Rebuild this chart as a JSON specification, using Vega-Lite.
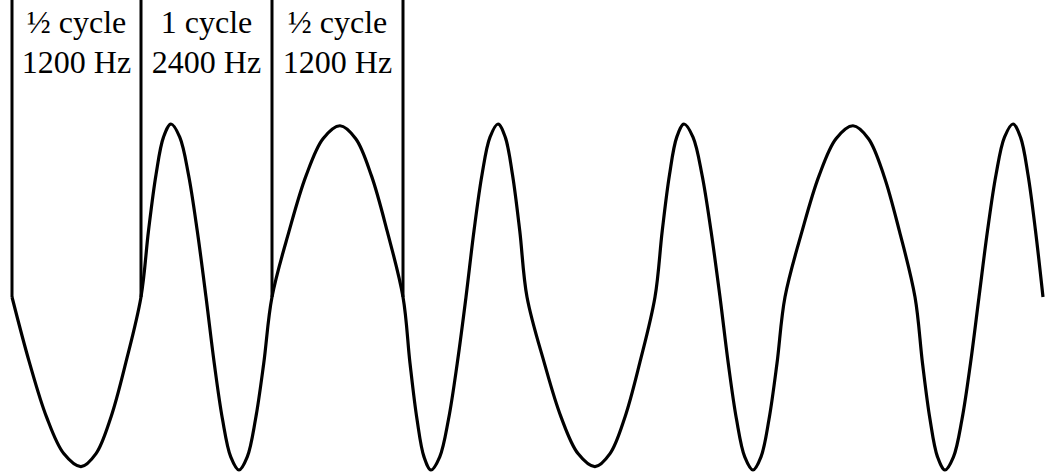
{
  "$schema": "https://vega.github.io/schema/vega-lite/v6.json",
  "width": 1047,
  "height": 475,
  "padding": 0,
  "autosize": {"type": "none"},
  "background": "white",
  "config": {"view": {"stroke": null}},
  "datasets": {
    "wave": [
      {"t": 12, "v": 0}, {"t": 29.25, "v": -0.375}, {"t": 46.5, "v": -0.693}, {"t": 63.75, "v": -0.905}, {"t": 81, "v": -0.98},
      {"t": 96, "v": -0.905}, {"t": 111, "v": -0.693}, {"t": 126, "v": -0.375}, {"t": 141, "v": 0},
      {"t": 148.5, "v": 0.383}, {"t": 156, "v": 0.707}, {"t": 163.5, "v": 0.924}, {"t": 171, "v": 1.0},
      {"t": 179.75, "v": 0.924}, {"t": 188.5, "v": 0.707}, {"t": 197.25, "v": 0.383}, {"t": 206, "v": 0},
      {"t": 214.25, "v": -0.383}, {"t": 222.5, "v": -0.707}, {"t": 230.75, "v": -0.924}, {"t": 239, "v": -1.0},
      {"t": 247.25, "v": -0.924}, {"t": 255.5, "v": -0.707}, {"t": 263.75, "v": -0.383}, {"t": 272, "v": 0},
      {"t": 289, "v": 0.379}, {"t": 306, "v": 0.7}, {"t": 323, "v": 0.915}, {"t": 340, "v": 0.99},
      {"t": 355.75, "v": 0.915}, {"t": 371.5, "v": 0.7}, {"t": 387.25, "v": 0.379}, {"t": 403, "v": 0},
      {"t": 410, "v": -0.383}, {"t": 417, "v": -0.707}, {"t": 424, "v": -0.924}, {"t": 431, "v": -1.0},
      {"t": 439.75, "v": -0.924}, {"t": 448.5, "v": -0.707}, {"t": 457.25, "v": -0.383}, {"t": 466, "v": 0},
      {"t": 474, "v": 0.383}, {"t": 482, "v": 0.707}, {"t": 490, "v": 0.924}, {"t": 498, "v": 1.0},
      {"t": 505.25, "v": 0.924}, {"t": 512.5, "v": 0.707}, {"t": 519.75, "v": 0.383}, {"t": 527, "v": 0},
      {"t": 544, "v": -0.375}, {"t": 561, "v": -0.693}, {"t": 578, "v": -0.905}, {"t": 595, "v": -0.98},
      {"t": 610, "v": -0.905}, {"t": 625, "v": -0.693}, {"t": 640, "v": -0.375}, {"t": 655, "v": 0},
      {"t": 662.25, "v": 0.383}, {"t": 669.5, "v": 0.707}, {"t": 676.75, "v": 0.924}, {"t": 684, "v": 1.0},
      {"t": 693, "v": 0.924}, {"t": 702, "v": 0.707}, {"t": 711, "v": 0.383}, {"t": 720, "v": 0},
      {"t": 728.25, "v": -0.383}, {"t": 736.5, "v": -0.707}, {"t": 744.75, "v": -0.924}, {"t": 753, "v": -1.0},
      {"t": 761, "v": -0.924}, {"t": 769, "v": -0.707}, {"t": 777, "v": -0.383}, {"t": 785, "v": 0},
      {"t": 802, "v": 0.379}, {"t": 819, "v": 0.7}, {"t": 836, "v": 0.915}, {"t": 853, "v": 0.99},
      {"t": 868.5, "v": 0.915}, {"t": 884, "v": 0.7}, {"t": 899.5, "v": 0.379}, {"t": 915, "v": 0},
      {"t": 922.5, "v": -0.383}, {"t": 930, "v": -0.707}, {"t": 937.5, "v": -0.924}, {"t": 945, "v": -1.0},
      {"t": 953.5, "v": -0.924}, {"t": 962, "v": -0.707}, {"t": 970.5, "v": -0.383}, {"t": 979, "v": 0},
      {"t": 987.5, "v": 0.383}, {"t": 996, "v": 0.707}, {"t": 1004.5, "v": 0.924}, {"t": 1013, "v": 1.0},
      {"t": 1020.5, "v": 0.924}, {"t": 1028, "v": 0.707}, {"t": 1035.5, "v": 0.383}, {"t": 1043, "v": 0}
    ],
    "marks": [
      {"t": 12}, {"t": 141}, {"t": 272}, {"t": 403}
    ],
    "labels": [
      {"tc": 76.5, "l1": "½ cycle", "l2": "1200 Hz"},
      {"tc": 206.5, "l1": "1 cycle", "l2": "2400 Hz"},
      {"tc": 337.5, "l1": "½ cycle", "l2": "1200 Hz"}
    ]
  },
  "layer": [
    {
      "data": {"name": "marks"},
      "mark": {"type": "rule", "color": "black", "strokeWidth": 3},
      "encoding": {
        "x": {"field": "t", "type": "quantitative", "scale": {"domain": [0, 1047], "nice": false, "zero": false}, "axis": null},
        "y": {"datum": 0, "type": "quantitative", "scale": {"domain": [-1.0289, 1.7168], "nice": false, "zero": false}, "axis": null},
        "y2": {"datum": 1.7168}
      }
    },
    {
      "data": {"name": "wave"},
      "mark": {"type": "line", "color": "black", "strokeWidth": 3.2, "interpolate": "catmull-rom"},
      "encoding": {
        "x": {"field": "t", "type": "quantitative", "axis": null},
        "y": {"field": "v", "type": "quantitative", "axis": null}
      }
    },
    {
      "data": {"name": "labels"},
      "mark": {"type": "text", "font": "Liberation Serif", "fontSize": 32, "color": "black", "align": "center", "baseline": "alphabetic"},
      "encoding": {
        "x": {"field": "tc", "type": "quantitative", "axis": null},
        "y": {"datum": 1.525, "type": "quantitative"},
        "text": {"field": "l1", "type": "nominal"}
      }
    },
    {
      "data": {"name": "labels"},
      "mark": {"type": "text", "font": "Liberation Serif", "fontSize": 32, "color": "black", "align": "center", "baseline": "alphabetic"},
      "encoding": {
        "x": {"field": "tc", "type": "quantitative", "axis": null},
        "y": {"datum": 1.295, "type": "quantitative"},
        "text": {"field": "l2", "type": "nominal"}
      }
    }
  ]
}
